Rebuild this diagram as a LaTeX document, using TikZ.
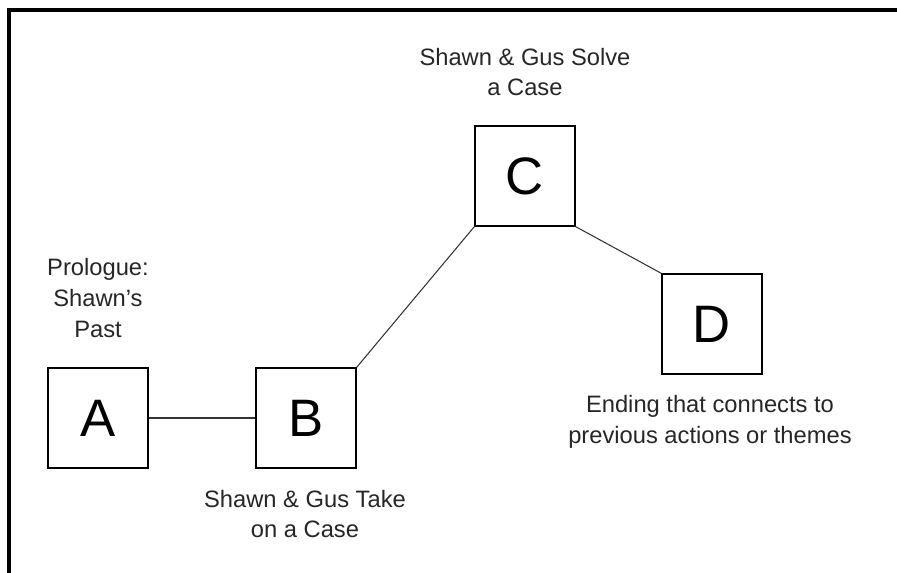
\documentclass[tikz,border=0pt]{standalone}
\usepackage{fontspec}
\setmainfont{Liberation Sans}
\begin{document}
\begin{tikzpicture}[
    x=0.02cm, y=-0.02cm,
    stage/.style={rectangle, draw, line width=0.75pt, minimum size=2cm, inner sep=0pt, font=\fontsize{30}{36}\selectfont},
    caption/.style={align=center, font=\fontsize{13.5}{17.6}\selectfont, text=black!85},
    link/.style={line width=0.6pt, black!80},
    frame/.style={line width=0.08cm, line cap=rect}
]
\useasboundingbox (0,0) rectangle (897,573);

% Frame
\coordinate (fbottom) at (9,573);
\coordinate (fcorner) at (9,10);
\coordinate (fright) at (897,10);
\draw[frame] (fbottom) -- (fcorner) -- (fright);

% Stages
\node[stage] (stageA) at (98,418) {A};
\node[stage] (stageB) at (306,418) {B};
\node[stage] (stageC) at (525,176) {C};
\node[stage] (stageD) at (712,324) {D};

% Captions
\node[caption] (capA) at (98,298) {Prologue:\\Shawn's\\Past};
\node[caption] (capB) at (305,514) {Shawn \& Gus Take\\on a Case};
\node[caption] (capC) at (525,72) {Shawn \& Gus Solve\\a Case};
\node[caption] (capD) at (710,422) {Ending that connects to\\previous actions or themes};

% Links
\draw[link] (stageA.east) -- (stageB.west);
\draw[link] (stageB.north east) -- (stageC.south west);
\draw[link] (stageC.south east) -- (stageD.north west);

\end{tikzpicture}
\end{document}
